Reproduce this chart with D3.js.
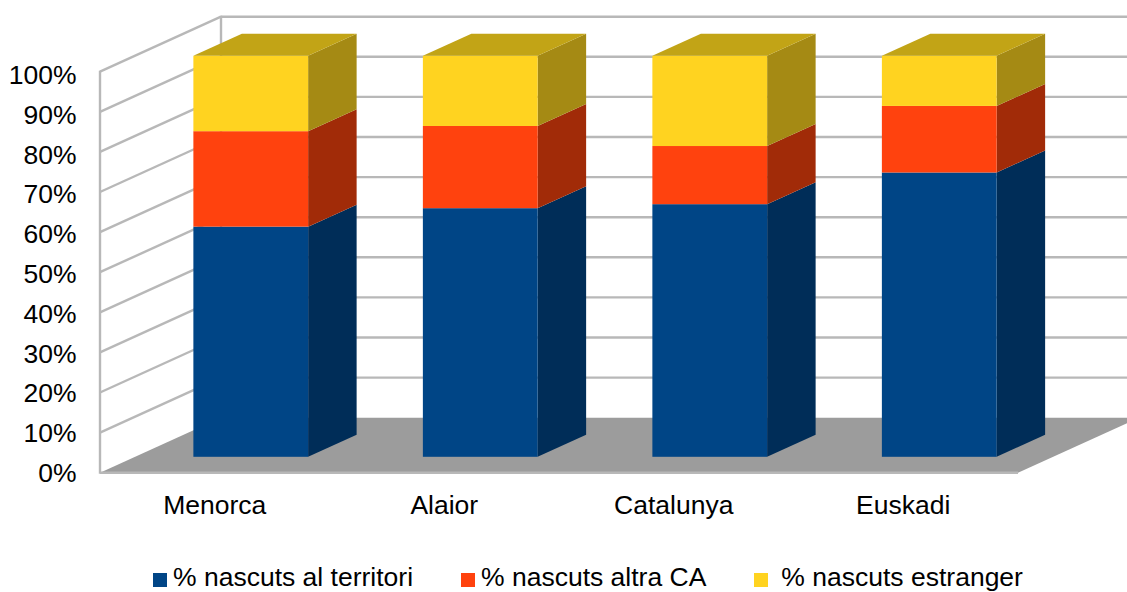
<!DOCTYPE html>
<html>
<head>
<meta charset="utf-8">
<script src="https://cdn.jsdelivr.net/npm/d3@7"></script>
<style>
body { margin: 0; background: #fff; }
svg { display: block; }
text { font-family: "Liberation Sans", Arial, sans-serif; fill: #000; }
</style>
</head>
<body>
<svg id="drawing_region"></svg>
<script>
const categories = ['Menorca', 'Alaior', 'Catalunya', 'Euskadi'];
const seriesNames = ['% nascuts al territori', '% nascuts altra CA', ' % nascuts estranger'];
const territori = [57.4, 62, 63, 70.9];
const altraCA = [23.8, 20.5, 14.5, 16.6];
const estranger = [18.8, 17.5, 22.5, 12.5];
const yTicks = [0, 10, 20, 30, 40, 50, 60, 70, 80, 90, 100];

const front = ['#004586', '#ff420e', '#ffd320'];
const side = ['#002d58', '#a12b08', '#a58a14'];
const topColor = '#c2a416';
const gridColor = '#b8b8b8';
const fontSize = 26.5;

const width = 1127, height = 592;
const svg = d3.select('#drawing_region').attr('width', width).attr('height', height);

const xscale = d3.scaleBand().domain(categories).range([100, 1018]).paddingInner(0).paddingOuter(0);
const yscale = d3.scaleLinear().domain([0, 100]).range([472.7, 71.7]);
// the labels sit a bit tighter than the gridlines in the reference
const labelscale = d3.scaleLinear().domain([0, 100]).range([472, 74]);

// depth of the box, and of the bars inside it
const depth = { x: 121, y: -55 };
const barShift = { x: 36, y: -15.9 };
const barDepth = { x: 48.5, y: -22 };
const barWidth = xscale.bandwidth() / 2;

const line = (x1, y1, x2, y2) => svg.append('line')
    .attr('x1', x1).attr('y1', y1).attr('x2', x2).attr('y2', y2)
    .attr('stroke', gridColor).attr('stroke-width', 2.4);

// walls
yTicks.forEach(t => {
    const y = yscale(t);
    if (t > 0) {
        line(100, y, 100 + depth.x, y + depth.y);
        line(100 + depth.x, y + depth.y, width, y + depth.y);
    }
});
line(100, yscale(0) + 1, 100, yscale(100) - 1);
line(100 + depth.x, yscale(0) + depth.y, 100 + depth.x, yscale(100) + depth.y - 1);

// floor
svg.append('polygon')
    .attr('fill', '#9c9c9c')
    .attr('points', [
        [100, yscale(0)], [1018, yscale(0)],
        [1018 + depth.x, yscale(0) + depth.y], [100 + depth.x, yscale(0) + depth.y]
    ].join(' '));
line(100, yscale(0), 1018, yscale(0));

// bars
const stack = d3.stack().keys([0, 1, 2]).value((d, k) => d[k]);
const rows = categories.map((c, i) => [territori[i], altraCA[i], estranger[i]]);
const layers = stack(rows);

const bars = svg.append('g');
categories.forEach((c, i) => {
    const x0 = xscale(c) + barShift.x + barWidth / 2;
    const x1 = x0 + barWidth;
    layers.forEach((layer, s) => {
        const yLow = yscale(layer[i][0]) + barShift.y;
        const yHigh = yscale(layer[i][1]) + barShift.y;
        bars.append('polygon')
            .attr('fill', side[s])
            .attr('points', [
                [x1, yLow], [x1 + barDepth.x, yLow + barDepth.y],
                [x1 + barDepth.x, yHigh + barDepth.y], [x1, yHigh]
            ].join(' '));
        bars.append('rect')
            .attr('x', x0).attr('y', yHigh)
            .attr('width', barWidth).attr('height', yLow - yHigh)
            .attr('fill', front[s]);
        if (s === 2) {
            bars.append('polygon')
                .attr('fill', topColor)
                .attr('points', [
                    [x0, yHigh], [x1, yHigh],
                    [x1 + barDepth.x, yHigh + barDepth.y], [x0 + barDepth.x, yHigh + barDepth.y]
                ].join(' '));
        }
    });
});

// axes
const yaxis = d3.axisLeft(labelscale).tickValues(yTicks).tickSize(0).tickPadding(0).tickFormat(d => d + '%');
svg.append('g').attr('transform', 'translate(76.5,1)').call(yaxis)
    .call(g => g.select('.domain').remove())
    .selectAll('text').attr('font-size', fontSize).style('font-family', '"Liberation Sans", Arial, sans-serif');

const xaxis = d3.axisBottom(xscale).tickSize(0).tickPadding(0);
svg.append('g').attr('transform', 'translate(0,495)').call(xaxis)
    .call(g => g.select('.domain').remove())
    .selectAll('text').attr('font-size', fontSize).style('font-family', '"Liberation Sans", Arial, sans-serif');

// legend
const legendX = [153, 461, 754];
const legendTextX = [173, 481, 774];
seriesNames.forEach((name, i) => {
    svg.append('rect').attr('x', legendX[i]).attr('y', 573).attr('width', 14).attr('height', 14).attr('fill', front[i]);
    svg.append('text').attr('x', legendTextX[i]).attr('y', 586).attr('font-size', fontSize)
        .attr('xml:space', 'preserve').style('white-space', 'pre').text(name);
});
</script>
</body>
</html>
